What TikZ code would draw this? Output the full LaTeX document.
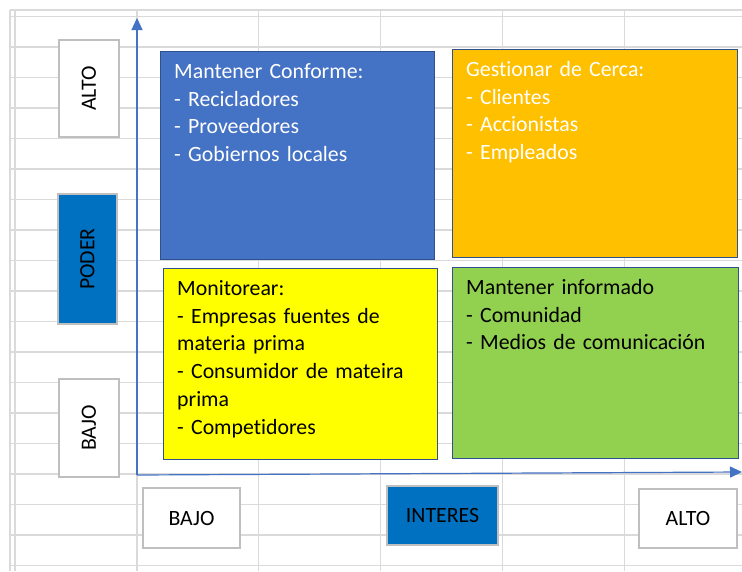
\documentclass[tikz,border=0pt]{standalone}
\usepackage{fontspec}
\setmainfont{Carlito}[Ligatures=NoCommon]
\usetikzlibrary{arrows.meta, positioning, calc}
\definecolor{ejeAzul}{HTML}{4472C4}
\definecolor{cajaAzul}{HTML}{4472C4}
\definecolor{bordeAzul}{HTML}{2F528F}
\definecolor{cajaNaranja}{HTML}{FFC000}
\definecolor{cajaAmarilla}{HTML}{FFFF00}
\definecolor{cajaVerde}{HTML}{92D050}
\definecolor{etiquetaAzul}{HTML}{0070C0}
\definecolor{rejilla}{HTML}{DADADA}
\definecolor{bordeGris}{HTML}{BFBFBF}
\newcommand{\letra}{\fontsize{21.8}{27.7}\selectfont}
\newcommand{\TextoCuadro}[3]{
    \node[textocuadro, text=#2] (#1-texto) at ([xshift=14.5pt, yshift=-28pt]#1.north west) {#3};
}

\begin{document}
\begin{tikzpicture}[x=1pt, y=-1pt,
    cuadro/.style={draw=bordeAzul, line width=1pt, inner sep=0pt},
    textocuadro/.style={anchor=base west, inner sep=0pt, text width=265pt, align=left, font=\letra},
    etiqueta/.style={draw=bordeGris, line width=1.3pt, fill=white, inner sep=0pt, font=\letra, text=black},
    eje/.style={draw=ejeAzul, line width=1.2pt, -{Triangle[length=12pt, width=11pt]}}]
        \useasboundingbox[fill=white] (0,0) rectangle (742,571);

        % Hoja de calculo de fondo
        \foreach \k in {0,...,18} {
            \draw[rejilla, line width=1.2pt] (10,16.5+30.5*\k) -- (742,16.5+30.5*\k);
        }
        \draw[rejilla, line width=1.2pt] (10,10) -- (742,10);
        \foreach \x in {10, 15, 137, 258.8, 380.6, 502.4, 624.2} {
            \draw[rejilla, line width=1.2pt] (\x,10) -- (\x,571);
        }

        % Ejes
        \coordinate (origen) at (137,475);
        \coordinate (ejeY) at (137,18);
        \coordinate (ejeX) at (742,472);
        \draw[eje] (origen) -- (ejeY);
        \draw[eje] (origen) -- (ejeX);

        % Cuadrantes
        \node[cuadro, fill=cajaAzul, minimum width=274pt, minimum height=208pt] (conforme) at (297,155) {};
        \node[cuadro, fill=cajaNaranja, minimum width=285pt, minimum height=208pt] (cerca) at (594.5,153) {};
        \node[cuadro, fill=cajaAmarilla, minimum width=274pt, minimum height=191pt] (monitorear) at (300,363.5) {};
        \node[cuadro, fill=cajaVerde, minimum width=286pt, minimum height=191pt] (informado) at (595,362.5) {};

        \TextoCuadro{conforme}{white}{Mantener Conforme:\\- Recicladores\\- Proveedores\\- Gobiernos locales}
        \TextoCuadro{cerca}{white}{Gestionar de Cerca:\\- Clientes\\- Accionistas\\- Empleados}
        \TextoCuadro{monitorear}{black}{Monitorear:\\- Empresas fuentes de\\materia prima\\- Consumidor de mateira\\prima\\- Competidores}
        \TextoCuadro{informado}{black}{Mantener informado\\- Comunidad\\- Medios de comunicación}

        % Etiquetas del eje vertical
        \node[etiqueta, rotate=90, minimum width=97pt, minimum height=60pt] (altoY) at (89,88.5) {ALTO};
        \node[etiqueta, rotate=90, fill=etiquetaAzul, minimum width=130pt, minimum height=59pt] (poder) at (87.5,259) {PODER};
        \node[etiqueta, rotate=90, minimum width=98pt, minimum height=60pt] (bajoY) at (89,428) {BAJO};

        % Etiquetas del eje horizontal
        \node[etiqueta, minimum width=97pt, minimum height=60pt] (bajoX) at (191.5,518) {BAJO};
        \node[etiqueta, fill=etiquetaAzul, minimum width=111pt, minimum height=59pt] (interes) at (442.5,515.5) {INTERES};
        \node[etiqueta, minimum width=98pt, minimum height=59pt] (altoX) at (688,518.5) {ALTO};

    \end{tikzpicture}
\end{document}
